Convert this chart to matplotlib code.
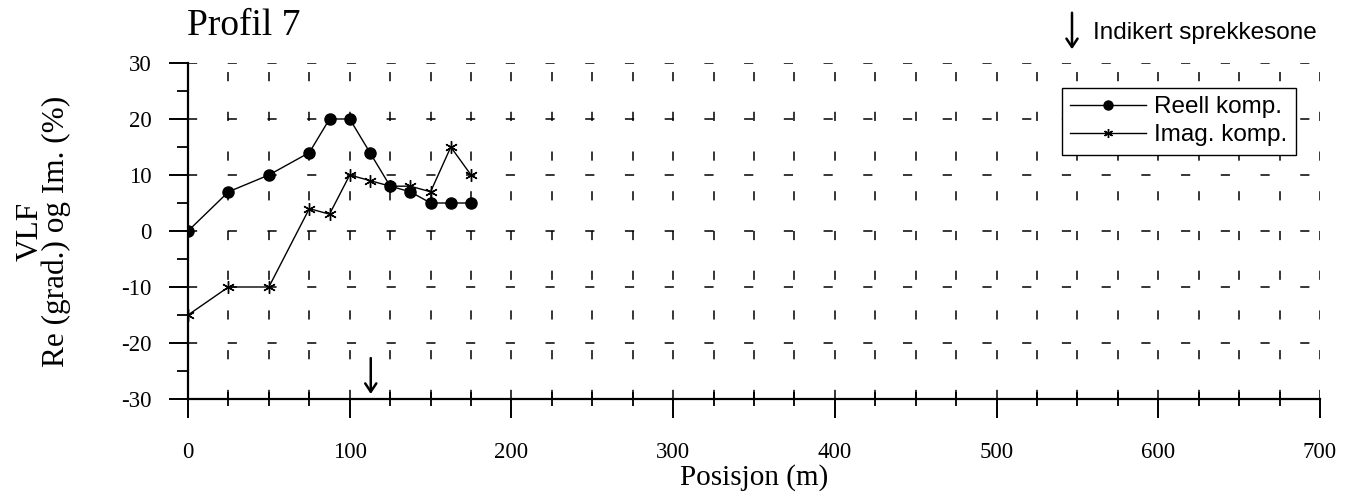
import matplotlib
matplotlib.use("Agg")
import matplotlib.pyplot as plt
from matplotlib.ticker import MultipleLocator

# VLF profile 7 measurements
posisjon = [0, 25, 50, 75, 87.5, 100, 112.5, 125, 137.5, 150, 162.5, 175]
reell = [0, 7, 10, 14, 20, 20, 14, 8, 7, 5, 5, 5]
imag = [-15, -10, -10, 4, 3, 10, 9, 8, 8, 7, 15, 10]

# indicated fracture zone
sprekkesone_x = 113

serif = "Liberation Serif"
sans = "Liberation Sans"

plt.rcParams["font.family"] = [serif, "DejaVu Serif"]
plt.rcParams["axes.unicode_minus"] = False

fig = plt.figure(figsize=(13.45, 4.98), dpi=100)
ax = fig.add_axes([0.1398, 0.1988, 0.8416, 0.6747])

ax.set_xlim(0, 700)
ax.set_ylim(-30, 30)

for side in ("top", "right"):
    ax.spines[side].set_visible(False)
for side in ("left", "bottom"):
    ax.spines[side].set_linewidth(1.6)
ax.spines["left"].set_zorder(5)

ax.xaxis.set_major_locator(MultipleLocator(100))
ax.xaxis.set_minor_locator(MultipleLocator(25))
ax.yaxis.set_major_locator(MultipleLocator(10))
ax.yaxis.set_minor_locator(MultipleLocator(5))

ax.tick_params(axis="x", which="major", direction="out", length=14, width=1.4,
               pad=17, labelsize=16.5)
ax.tick_params(axis="x", which="minor", direction="inout", length=10, width=1.3)
ax.tick_params(axis="y", which="major", direction="out", length=14, width=1.4,
               pad=12, labelsize=16.5)
ax.tick_params(axis="y", which="minor", direction="out", length=8, width=1.3)

grid_kw = dict(color="black", linewidth=1.1, linestyle=(0, (6, 20)))
ax.xaxis.grid(True, which="both", **grid_kw)
ax.yaxis.grid(True, which="major", **grid_kw)
ax.set_axisbelow(True)

ax.plot(posisjon, reell, color="black", linewidth=1.0, marker="o",
        markersize=8, markerfacecolor="black", label="Reell komp.", zorder=4)
ax.plot(posisjon, imag, color="black", linewidth=1.0, marker=(6, 2, 0),
        markersize=9, markeredgewidth=1.0, label="Imag. komp.", zorder=4)

leg = ax.legend(loc="upper right", bbox_to_anchor=(0.9788, 0.926),
                prop={"family": sans, "size": 17.5}, frameon=True,
                fancybox=False, edgecolor="black", framealpha=1,
                handlelength=3.1, borderpad=0.35, labelspacing=0.25,
                handletextpad=0.35, borderaxespad=0)
leg.get_frame().set_linewidth(1.0)
for h in leg.legend_handles:
    h.set_markersize(6.5)

ax.annotate("", xy=(sprekkesone_x, -29.6), xytext=(sprekkesone_x, -22.2),
            arrowprops=dict(arrowstyle="->,head_length=0.6,head_width=0.4",
                            color="black", lw=1.8), zorder=6)

# key for the arrow symbol above the plot
ax.annotate("", xy=(1072, 446), xytext=(1072, 488),
            xycoords="figure pixels", textcoords="figure pixels",
            arrowprops=dict(arrowstyle="->,head_length=0.6,head_width=0.4",
                            color="black", lw=1.8), annotation_clip=False)
fig.text(1093 / 1345, 1 - 33 / 498, "Indikert sprekkesone",
         family=sans, fontsize=17.5, ha="left", va="center")

fig.text(187 / 1345, 1 - 26 / 498, "Profil 7", fontsize=27,
         ha="left", va="center")

ax.set_xlabel("Posisjon (m)", fontsize=21, labelpad=1)
ax.set_ylabel("VLF\nRe (grad.) og Im. (%)", fontsize=22.5,
              labelpad=36, linespacing=0.86)

fig.savefig("out.png", dpi=100)
